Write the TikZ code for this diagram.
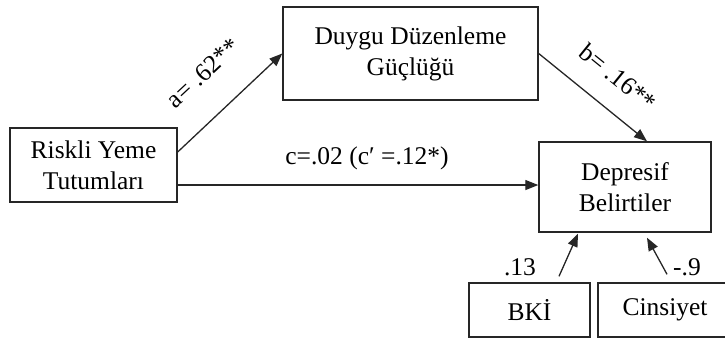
\documentclass[tikz,border=0pt]{standalone}
\usepackage{fontspec}
\setmainfont{Liberation Serif}
\usetikzlibrary{arrows.meta,calc}
\begin{document}
\begin{tikzpicture}[x=1pt,y=-1pt,
  box/.style={draw=black!85,line width=1.4pt,rectangle,inner sep=0pt,align=center,
    font=\fontsize{25.5}{31}\selectfont},
  lab/.style={inner sep=0pt,font=\fontsize{25.5}{31}\selectfont},
  conn/.style={draw=black!85,line width=1.3pt,-{Triangle[length=13pt,width=10pt]}}]
\useasboundingbox (0,0) rectangle (725,338);
\node[box,minimum width=167pt,minimum height=74pt] (r) at (93.5,165) {Riskli Yeme\\Tutumları};
\node[box,minimum width=255pt,minimum height=93pt] (d) at (410.5,53.5) {Duygu Düzenleme\\Güçlüğü};
\node[box,minimum width=172pt,minimum height=90pt] (dep) at (625,187) {Depresif\\Belirtiler};
\node[box,minimum width=121pt,minimum height=54pt] (bki) at (529.5,310) {BKİ};
\node[box,minimum width=134pt,minimum height=54pt] (cins) at (665,310) {Cinsiyet};
\draw[conn] ([yshift=13pt]r.east) -- (d.west);
\draw[conn] (d.east) -- ([xshift=22pt]dep.north);
\draw[conn] ([yshift=-20pt]r.east) -- ([yshift=-20pt]r.east -| dep.west);
\draw[conn] ([xshift=29.5pt,yshift=6pt]bki.north) -- ([xshift=-47pt,yshift=-1pt]dep.south);
\draw[conn] ([xshift=2pt,yshift=8pt]cins.north) -- ([xshift=22pt,yshift=-5pt]dep.south);
\node[lab,rotate=43] (la) at (203,73) {a= .62**};
\node[lab,rotate=-39] (lb) at (618,77) {b= .16**};
\node[lab] (lc) at (367,158) {c=.02 (c′ =.12*)};
\node[lab] (l13) at (520,267) {.13};
\node[lab] (l9) at (687,267) {-.9};
\end{tikzpicture}
\end{document}
